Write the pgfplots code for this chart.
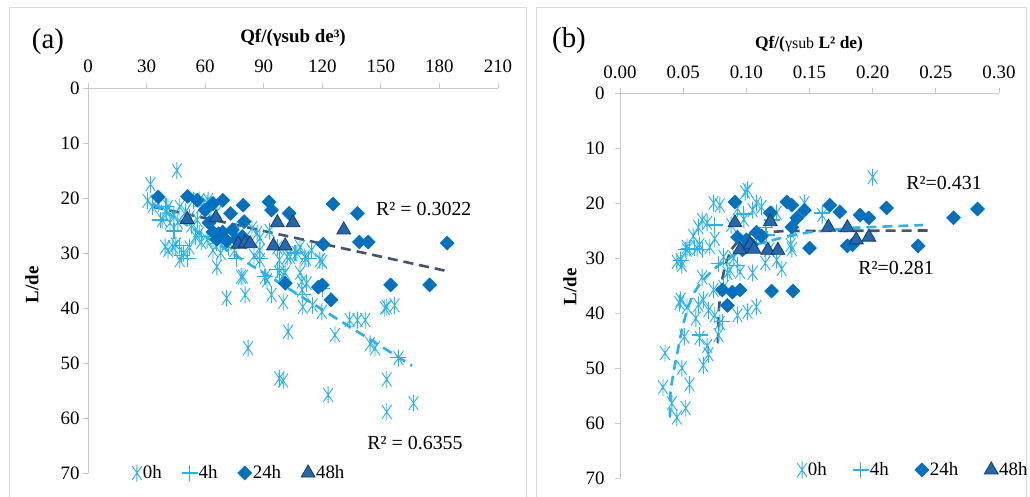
\documentclass[border=0pt]{standalone}
\usepackage{fontspec}
\setmainfont{Liberation Serif}
\usepackage{pgfplots}
\pgfplotsset{compat=1.18}

\definecolor{sky}{RGB}{40,178,240}
\definecolor{dblue}{RGB}{0,112,192}
\definecolor{tri}{RGB}{31,105,178}
\definecolor{triedge}{RGB}{32,56,100}
\definecolor{trend}{RGB}{68,84,106}
\definecolor{axgray}{RGB}{200,200,200}
\definecolor{framegray}{RGB}{217,217,217}

% six-armed star: vertical stroke plus a steep X
\pgfdeclareplotmark{xstar}{%
  \pgfpathmoveto{\pgfqpoint{0pt}{-\pgfplotmarksize}}%
  \pgfpathlineto{\pgfqpoint{0pt}{\pgfplotmarksize}}%
  \pgfpathmoveto{\pgfqpointpolar{55}{-\pgfplotmarksize}}%
  \pgfpathlineto{\pgfqpointpolar{55}{\pgfplotmarksize}}%
  \pgfpathmoveto{\pgfqpointpolar{125}{-\pgfplotmarksize}}%
  \pgfpathlineto{\pgfqpointpolar{125}{\pgfplotmarksize}}%
  \pgfusepathqstroke}

\newcommand{\tfont}{\fontsize{19}{21}\selectfont}

\pgfplotsset{
  panel/.style={
    scale only axis, anchor=south west,
    height=385bp, ymin=0, ymax=70, y dir=reverse,
    axis x line=top, axis y line=left,
    axis line style={-, draw=axgray, line width=0.9bp},
    ytick={0,10,...,70},
    tick align=outside, major tick length=5bp,
    tick style={draw=axgray, line width=0.9bp},
    ticklabel style={font=\tfont},
    /pgf/number format/assume math mode=true,
    clip=false,
    legend columns=4,
    legend style={draw=none, fill=none, font=\tfont, inner sep=0pt,
      nodes={inner sep=1bp}},
    legend image code/.code={\draw[mark repeat=2,mark phase=2]
      plot coordinates {(0bp,0bp) (6bp,0bp) (12bp,0bp)};},
  },
  s0/.style={only marks, mark=xstar, mark size=8.5bp, draw=sky,
    mark options={line width=0.9bp, draw=sky}},
  s4/.style={only marks, mark=+, mark size=8bp, draw=sky,
    mark options={line width=1.2bp, draw=sky}},
  s24/.style={only marks, mark=square*, mark size=5bp,
    mark options={rotate=45, fill=dblue, draw=dblue}},
  s48/.style={only marks, mark=triangle*, mark size=8bp,
    mark options={fill=tri, draw=triedge, line width=0.8bp}},
  fitdark/.style={trend, line width=2.6bp, dash pattern=on 10bp off 6bp, no marks},
  fitsky/.style={sky, line width=2.6bp, dash pattern=on 10bp off 6bp, no marks},
}

\begin{document}
\begin{tikzpicture}
% panel frames
\draw[framegray, line width=1bp] (9bp,-10bp) -- (9bp,489bp) -- (526bp,489bp) -- (526bp,-10bp);
\draw[framegray, line width=1bp] (536bp,-10bp) -- (536bp,489bp) -- (1026bp,489bp) -- (1026bp,-10bp);

% ---------------- panel (a) ----------------
\begin{axis}[panel, at={(88bp,24bp)}, width=410bp,
  xmin=0, xmax=210, xtick={0,30,...,210},
  xticklabel style={yshift=7bp},
  legend style={at={(0.107,0)}, anchor=west,
    /tikz/every even column/.append style={column sep=19bp}}]
\addplot[s0] table {
x y
32 17.5
45.5 15
30.5 20.5
33 21.5
36 21
38 24
40 22.5
41 21.6
42 24.5
44 23
46 24.4
47 21.6
50 22.5
52 23.5
53 25
54 20.4
56 24
57 20.4
57 26.4
58 21.5
61 21
61.5 20.4
63 23.5
66 22.5
39.5 28.9
41 29.5
43.5 28.9
45 28.5
47 31.3
49 30
52 29
55 27
58 28
61 27.6
64 29.5
66 32.5
67.6 28
68 30
71 28.2
71 38.2
75 29.5
76 26
78.4 34.3
79.4 34.3
80.5 37.6
82 47.3
84 25.5
85 30.5
86.6 26.4
88 27.3
88 31.3
88 29.5
90.7 34.3
91.7 35
93 26
94 37.6
97 29
98 31.3
98 33.6
100 34
100 38.9
101 33.6
98 52.8
100 53.2
102 30.7
102.5 44.3
103.5 30.7
107 30
108.6 33.6
108.6 28.9
109.5 35.2
109.6 36.7
110 39.8
111 30.7
111.6 31
112 35.5
114.5 29.5
115 39.5
118.8 31.3
119.8 40.7
120 31.6
123 55.8
126.5 44.9
134 42.2
138 42.2
142 42.2
144.5 46.5
147 47.3
152 40
153 39.8
153 53
153 58.9
157 39.5
159 49.1
166.7 57.3
};
\addplot[s4] table {
x y
37 24
40 21.5
44 26
47 28.7
48 30.4
51 31
58 27
66 28.2
72 29
76 31
88 31
90.7 34.3
97 33
106 30
110 37.6
113 31
120 36.5
159 49
};
\addplot[s24] table {
x y
36 19.8
51 19.7
56 20.4
60 22.2
62 24.5
64 21
69 20.4
73 22.8
79.5 21.3
80 24.3
92.7 20.7
94 22.2
103 22.8
125.5 21.1
138 22.8
139 28
143.5 28
184 28.2
120.5 28.4
64 26.2
66 27.5
67 26.5
69 26.2
71 27.8
74 25.8
76 27.6
79 27
81 28
101 35.5
118 36.2
120 35.8
124.5 38.5
155 35.8
175 35.8
};
\addplot[s48] table {
x y
50.8 23.9
65.5 23.6
97 24.5
105 24.5
131 25.8
77 28.4
80.5 28.2
83 28.3
95 28.7
101 28.7
};
\legend{0h,4h,24h,48h}
\addplot[fitdark, forget plot] table {
x y
33.5 21.6
184 33.3
};
\addplot[fitsky, forget plot] table {
x y
33 21
166 50.5
};
\node[font=\fontsize{20}{22}\selectfont] at (axis cs:172,22) {R² = 0.3022};
\node[font=\fontsize{20}{22}\selectfont] at (axis cs:167.5,64.5) {R² = 0.6355};
\end{axis}

% ---------------- panel (b) ----------------
\begin{axis}[panel, at={(620bp,19bp)}, width=379bp,
  xmin=0, xmax=0.30, xtick={0,0.05,...,0.30},
  xticklabel style={yshift=6bp, /pgf/number format/.cd, fixed, fixed zerofill, precision=2},
  yticklabel style={xshift=-7bp},
  legend style={at={(0.467,0.021)}, anchor=west,
    /tikz/every even column/.append style={column sep=25bp}}]
\addplot[s0] table {
x y
0.0356 47.3
0.034 53.5
0.041 56.4
0.045 59
0.052 57.3
0.055 53
0.049 50
0.066 49.5
0.063 44.5
0.069 46
0.070 47.5
0.051 44.3
0.047 38.2
0.066 37.6
0.070 39.5
0.079 41.8
0.075 40.4
0.093 40.4
0.101 39.8
0.045 30.7
0.049 31.3
0.053 28.5
0.061 28.2
0.065 33.5
0.074 35.8
0.082 35.3
0.115 30.9
0.124 30.4
0.136 28.4
0.095 32.5
0.085 32.7
0.105 32.7
0.200 15.3
0.101 17.6
0.099 18
0.074 20
0.079 20.4
0.108 20
0.093 21
0.065 23.1
0.069 23.6
0.124 21.8
0.146 20
0.160 22.2
0.137 24.9
0.062 24.4
0.053 28
0.048 30.4
0.063 27.6
0.071 28
0.082 29.8
0.087 32.2
0.135 27.6
0.105 21.3
0.112 20.7
0.108 26.2
0.108 38.9
0.062 38.5
0.053 38.9
0.048 37.6
0.058 26
0.075 26.5
0.088 24
0.098 23
0.118 28.5
0.128 32
0.090 30
0.078 44
0.060 41
};
\addplot[s4] table {
x y
0.052 28.5
0.055 28.2
0.059 28.2
0.065 28.5
0.048 30.4
0.078 31
0.093 31.3
0.081 41.6
0.063 44
0.116 25.8
0.115 24.4
0.120 23.1
0.160 21.8
0.098 22
0.075 24
};
\addplot[s24] table {
x y
0.091 19.8
0.132 19.8
0.136 20.4
0.146 21.3
0.166 20.4
0.174 21.6
0.190 22.2
0.197 22.7
0.211 20.9
0.264 22.7
0.283 21.1
0.119 21.8
0.140 22.7
0.136 24.4
0.108 25.3
0.112 26.0
0.093 26.2
0.100 26.7
0.097 28.5
0.104 27.5
0.150 28.2
0.180 27.8
0.184 27.6
0.236 27.8
0.081 35.8
0.089 36.2
0.095 35.8
0.085 38.6
0.120 36.0
0.137 36.0
};
\addplot[s48] table {
x y
0.091 23.6
0.119 23.4
0.165 24.4
0.180 24.5
0.187 26.7
0.197 26.2
0.095 28.5
0.103 27.6
0.106 28.4
0.117 28.6
0.125 28.6
};
\legend{0h,4h,24h,48h}
\addplot[fitdark, forget plot] table {
x y
0.0775 45.5
0.0780 40
0.0800 35
0.0830 31.5
0.0880 28.5
0.0950 26.5
0.1050 25.5
0.1300 25.1
0.2450 25.0
};
\addplot[fitsky, forget plot] table {
x y
0.0395 59
0.0400 54
0.0430 50
0.0460 46.5
0.0490 43
0.0530 39.5
0.0580 36.5
0.0640 34.5
0.0700 33
0.0770 31.5
0.0900 29.5
0.1050 27.7
0.1300 26.2
0.1500 25.3
0.1850 24.5
0.2400 24.0
};
\node[font=\fontsize{20}{22}\selectfont] at (axis cs:0.2565,16.4) {R²=0.431};
\node[font=\fontsize{20}{22}\selectfont] at (axis cs:0.2185,31.8) {R²=0.281};
\end{axis}

% panel letters, titles and axis names
\node[font=\fontsize{29}{31}\selectfont] at (48bp,455bp) {(a)};
\node[font=\bfseries\fontsize{19}{21}\selectfont] at (293bp,459bp) {Qf/(γsub de³)};
\node[font=\bfseries\fontsize{19}{21}\selectfont, rotate=90] at (32bp,212bp) {L/de};

\node[font=\fontsize{29}{31}\selectfont] at (569bp,456bp) {(b)};
\node[font=\bfseries\fontsize{17.5}{20}\selectfont] at (809bp,453bp)
  {Qf/({\mdseries\fontsize{16}{18}\selectfont γsub} L² de)};
\node[font=\bfseries\fontsize{19}{21}\selectfont, rotate=90] at (570bp,210bp) {L/de};

\pgfresetboundingbox
\path[use as bounding box] (0,0) rectangle (1030bp,497bp);
\end{tikzpicture}
\end{document}
